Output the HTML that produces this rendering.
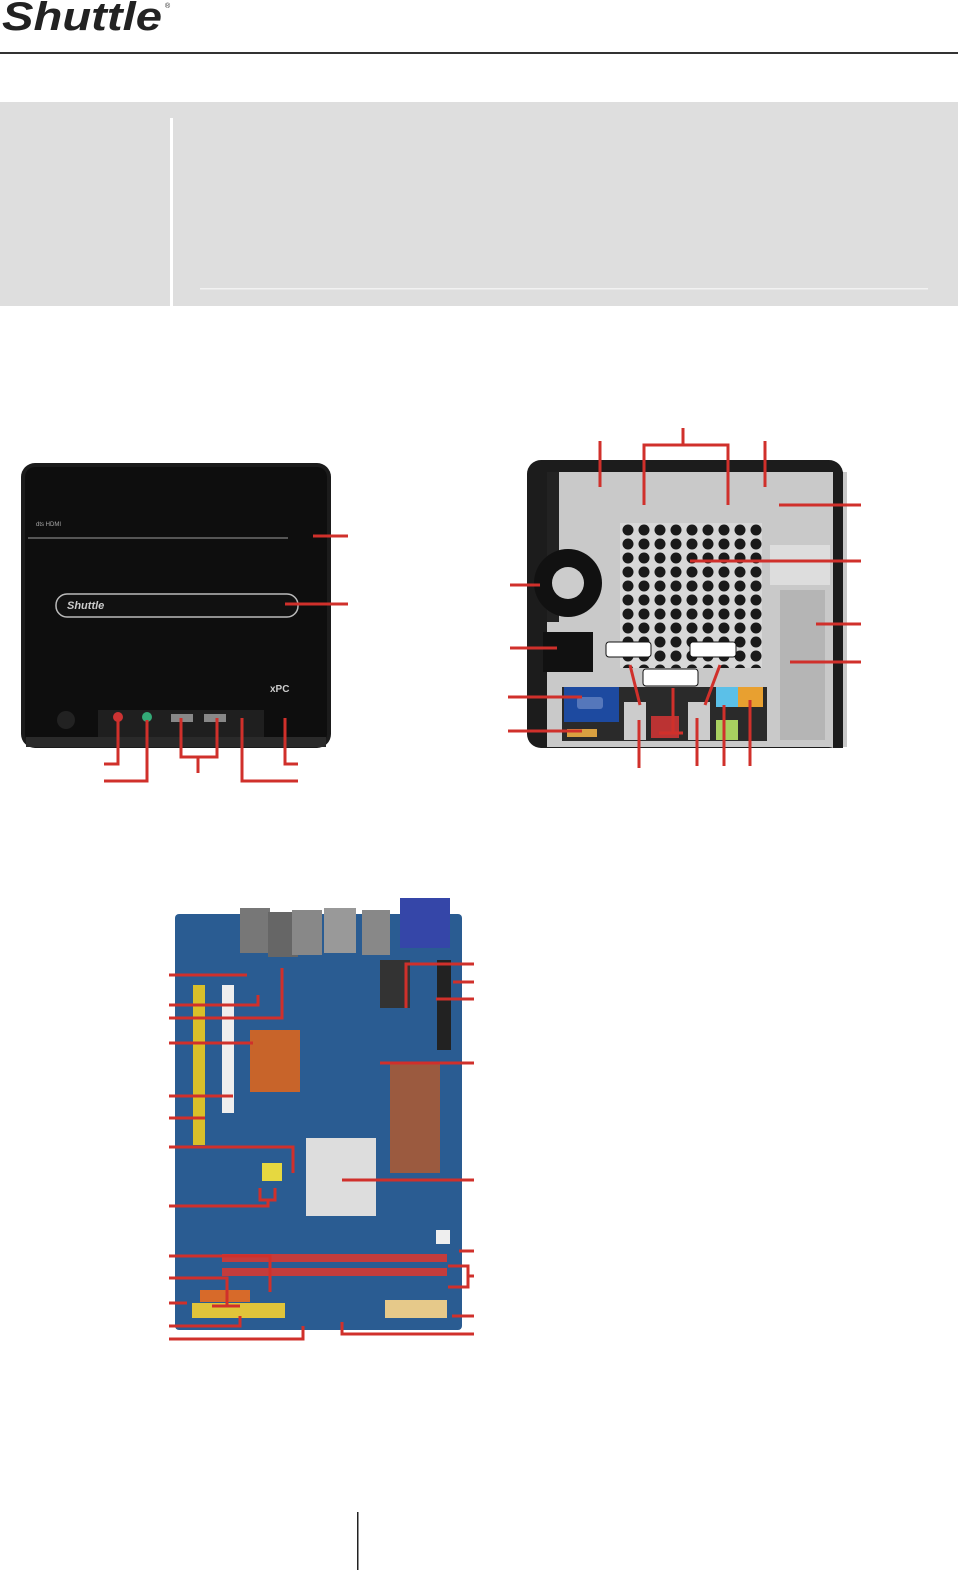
<!DOCTYPE html>
<html><head><meta charset="utf-8"><style>
html,body{margin:0;padding:0;background:#fff;}
body{width:966px;height:1581px;position:relative;overflow:hidden;font-family:"Liberation Sans",sans-serif;}
</style></head><body>
<svg width="966" height="1581" viewBox="0 0 966 1581" xmlns="http://www.w3.org/2000/svg">
<defs>
<pattern id="hex" x="620" y="523" width="16" height="14" patternUnits="userSpaceOnUse">
<rect width="16" height="14" fill="#d8d8d8"/>
<circle cx="8" cy="7" r="5.5" fill="#1a1a1a"/>
</pattern>
</defs>
<!-- header -->
<text x="2" y="30" font-family="Liberation Sans" font-style="italic" font-weight="bold" font-size="40" fill="#222" textLength="160" lengthAdjust="spacingAndGlyphs">Shuttle</text>
<text x="165" y="8" font-size="7" fill="#222">®</text>
<rect x="0" y="52" width="958" height="2" fill="#333"/>
<rect x="0" y="102" width="958" height="204" fill="#dedede"/>
<rect x="170" y="118" width="3" height="188" fill="#fff"/>
<rect x="200" y="288" width="728" height="1.5" fill="#f2f2f2"/>

<!-- front PC -->
<rect x="21" y="463" width="310" height="285" rx="14" fill="#1b1b1b"/>
<rect x="25" y="467" width="302" height="277" rx="10" fill="#0e0e0e"/>
<rect x="28" y="537" width="260" height="2" fill="#555"/>
<text x="36" y="526" font-size="6" fill="#aaa">dts HDMI</text>
<rect x="56" y="594" width="242" height="23" rx="11" fill="#111" stroke="#bbb" stroke-width="1.5"/>
<text x="67" y="609" font-size="11" font-style="italic" font-weight="bold" fill="#ccc">Shuttle</text>
<text x="270" y="692" font-size="10" font-weight="bold" fill="#ccc">xPC</text>
<rect x="98" y="710" width="166" height="32" fill="#1f1f1f"/>
<rect x="26" y="737" width="300" height="10" fill="#2a2a2a"/>
<circle cx="118" cy="717" r="5" fill="#c33"/><circle cx="147" cy="717" r="5" fill="#3a7"/>
<rect x="171" y="714" width="22" height="8" fill="#888"/><rect x="204" y="714" width="22" height="8" fill="#888"/>
<circle cx="66" cy="720" r="9" fill="#222"/>
<g stroke="#d0302b" stroke-width="3" fill="none">
<path d="M313 536H348M285 604H348"/>
<path d="M118 720V764H104M147 720V781H104M181 718V757H217V718M198 757V773M242 718V781H298M285 718V764H298"/>
</g>

<!-- rear PC -->
<rect x="527" y="460" width="316" height="288" rx="14" fill="#1c1c1c"/>
<rect x="547" y="472" width="300" height="275" fill="#c9c9c9"/>
<rect x="833" y="472" width="10" height="276" fill="#1c1c1c"/>
<rect x="547" y="472" width="12" height="150" fill="#222"/>
<rect x="620" y="523" width="142" height="145" fill="url(#hex)"/>
<circle cx="568" cy="583" r="34" fill="#111"/>
<circle cx="568" cy="583" r="16" fill="#ccc"/>
<rect x="543" y="632" width="50" height="40" fill="#111"/>
<rect x="562" y="687" width="205" height="54" fill="#2a2a2a"/>
<rect x="564" y="687" width="55" height="35" fill="#1d4aa0"/>
<rect x="577" y="697" width="26" height="12" rx="3" fill="#5577bb"/>
<rect x="567" y="729" width="30" height="8" fill="#d9a040"/>
<rect x="624" y="702" width="22" height="38" fill="#ccc"/>
<rect x="651" y="716" width="28" height="22" fill="#b33"/>
<rect x="688" y="702" width="22" height="38" fill="#ccc"/>
<rect x="716" y="687" width="22" height="20" fill="#5bc0e8"/>
<rect x="738" y="687" width="25" height="20" fill="#e8a030"/>
<rect x="716" y="720" width="22" height="20" fill="#a8d060"/>
<rect x="770" y="545" width="60" height="40" fill="#ddd"/>
<rect x="780" y="590" width="45" height="150" fill="#b5b5b5"/>
<g stroke="#d0302b" stroke-width="3" fill="none">
<path d="M600 441V487M683 428V445M644 505V445H728V505M765 441V487"/>
<path d="M779 505H861M690 561H861M816 624H861M790 662H861"/>
<path d="M510 585H540M510 648H557M508 697H582M508 731H582"/>
<path d="M639 720V768M697 718V766M724 705V766M750 700V766"/>
<path d="M630 665L640 705M720 665L705 705M673 688V733M659 733H683"/>
</g>
<rect x="606" y="642" width="45" height="15" rx="3" fill="#fff" stroke="#111" stroke-width="1"/>
<rect x="690" y="642" width="46" height="15" rx="3" fill="#fff" stroke="#111" stroke-width="1"/>
<rect x="643" y="669" width="55" height="17" rx="3" fill="#fff" stroke="#111" stroke-width="1"/>

<!-- motherboard -->
<rect x="175" y="914" width="287" height="416" rx="4" fill="#2a5c92"/>
<rect x="240" y="908" width="30" height="45" fill="#777"/>
<rect x="268" y="912" width="30" height="45" fill="#666"/>
<rect x="292" y="910" width="30" height="45" fill="#888"/>
<rect x="324" y="908" width="32" height="45" fill="#999"/>
<rect x="362" y="910" width="28" height="45" fill="#888"/>
<rect x="400" y="898" width="50" height="50" fill="#3546a8"/>
<rect x="193" y="985" width="12" height="160" fill="#d8c02a"/>
<rect x="222" y="985" width="12" height="128" fill="#eee"/>
<rect x="250" y="1030" width="50" height="62" fill="#c8642a"/>
<rect x="306" y="1138" width="70" height="78" fill="#ddd"/>
<rect x="380" y="960" width="30" height="48" fill="#333"/>
<rect x="437" y="960" width="14" height="90" fill="#222"/>
<rect x="390" y="1063" width="50" height="110" fill="#b85a2a" opacity="0.8"/>
<rect x="222" y="1254" width="225" height="8" fill="#c43c3c"/>
<rect x="222" y="1268" width="225" height="8" fill="#c43c3c"/>
<rect x="192" y="1303" width="93" height="15" fill="#e0c43a"/>
<rect x="200" y="1290" width="50" height="12" fill="#d76a2a"/>
<rect x="385" y="1300" width="62" height="18" fill="#e6c98a"/>
<rect x="436" y="1230" width="14" height="14" fill="#eee"/>
<rect x="262" y="1163" width="20" height="18" fill="#e6d840"/>
<g stroke="#d0302b" stroke-width="3" fill="none">
<path d="M169 975H247M169 1005H258V995M169 1018H282V968M169 1043H253M169 1096H233M169 1118H205"/>
<path d="M169 1147H293V1173M169 1206H268V1200M260 1188V1200H275V1188M169 1256H270V1292M169 1278H227V1306M212 1306H240"/>
<path d="M169 1303H187M169 1326H240V1316M169 1339H303V1326"/>
<path d="M406 1008V964H474M453 982H474M436 999H474M380 1063H474M342 1180H474M459 1251H474"/>
<path d="M448 1266H468V1287H448M468 1276H474M452 1316H474M342 1322V1334H474"/>
</g>

<rect x="357" y="1512" width="1.5" height="58" fill="#222"/>
</svg>
</body></html>
